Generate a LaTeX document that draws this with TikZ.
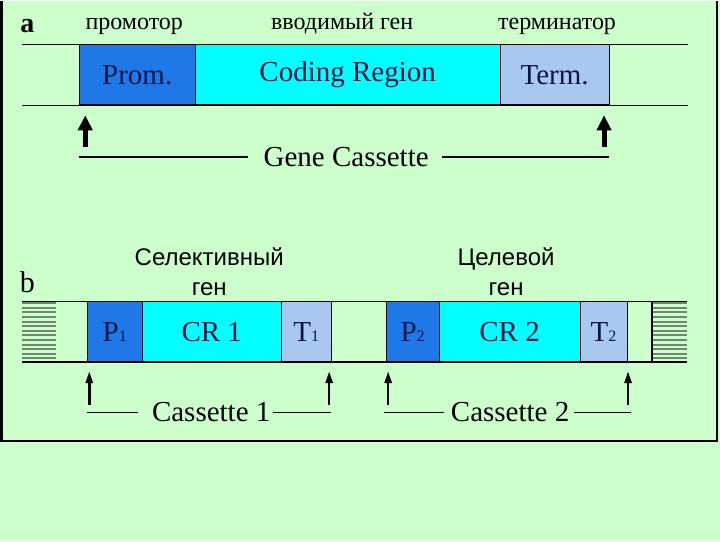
\documentclass[tikz,border=0pt]{standalone}
\usepackage{fontspec}
\setmainfont{Liberation Serif}
\setsansfont{Liberation Sans}
\usetikzlibrary{positioning,arrows.meta,calc}

\definecolor{bakgrunn}{RGB}{204,255,204}
\definecolor{promblaa}{RGB}{30,120,232}
\definecolor{kodecyan}{RGB}{0,255,255}
\definecolor{termblaa}{RGB}{168,200,240}
\definecolor{tekst}{RGB}{10,20,70}
\definecolor{stripefarge}{RGB}{110,135,110}
\newcommand{\indeks}[1]{{\fontsize{8}{8}\selectfont #1}}

\begin{document}
\begin{tikzpicture}[
  x=0.5pt, y=-0.5pt,
  node distance=0pt,
  boks/.style={draw=black, line width=0.5pt, inner sep=0pt, outer sep=0pt, minimum height=30.5pt, text=tekst, font=\fontsize{14.5}{16}\selectfont},
  promboks/.style={boks, fill=promblaa},
  kodeboks/.style={boks, fill=kodecyan},
  termboks/.style={boks, fill=termblaa},
  etikett/.style={font=\fontsize{12}{14}\selectfont, anchor=base},
  sans/.style={font=\sffamily\fontsize{12}{15}\selectfont, align=center},
  kass/.style={font=\fontsize{14.5}{16}\selectfont, inner sep=0pt},
  tykkpil/.style={-{Triangle[length=7.5pt, width=7pt]}, line width=2.5pt},
  tynnpil/.style={-{Triangle[length=6pt, width=3.5pt]}, line width=1.3pt},
  linje/.style={line width=0.6pt},
  stripe/.style={draw=stripefarge, line width=1pt}
]
\fill[bakgrunn] (0,0) rectangle (720,540);
\draw[line width=1.3pt] (1,0) -- (1,440) -- (717,440) -- (717,0);

% a: gene cassette
\node[font=\bfseries\fontsize{14}{14}\selectfont, anchor=base] (a) at (27,31) {a};
\node[etikett] (lprom) at (134,28) {промотор};
\node[etikett] (lkode) at (342,28) {вводимый ген};
\node[etikett] (lterm) at (557,28) {терминатор};

\draw[linje] (22,43) -- (688,43);
\draw[linje] (22,104) -- (688,104);
\node[promboks, minimum width=58pt, anchor=north west] (prom) at (79,43) {Prom.};
\node[kodeboks, minimum width=152.5pt, right=of prom] (kode) {Coding Region};
\node[termboks, minimum width=54.5pt, right=of kode] (term) {Term.};
\draw[line width=1pt] (prom.south west) -- (term.south east);

\draw[tykkpil] ([xshift=3pt, yshift=-21pt]prom.south west) -- ([xshift=3pt, yshift=-5pt]prom.south west);
\draw[tykkpil] ([xshift=-2.5pt, yshift=-21pt]term.south east) -- ([xshift=-2.5pt, yshift=-5pt]term.south east);

\node[kass] (gk) at (346,156) {Gene Cassette};
\draw[line width=1pt] (prom.west |- gk) -- ([xshift=-7.5pt]gk.west);
\draw[line width=1pt] ([xshift=6.5pt]gk.east) -- (term.east |- gk);

% b: two cassettes
\node[font=\fontsize{15}{15}\selectfont, anchor=base] (b) at (27,291) {b};
\node[sans] (selgen) at (209,271) {Селективный\\ген};
\node[sans] (maalgen) at (506,271) {Целевой\\ген};

\foreach \i in {0,...,12} {
  \draw[stripe] (22,{302+\i*4.6}) -- (56,{302+\i*4.6});
  \draw[stripe] (653,{302+\i*4.6}) -- (687,{302+\i*4.6});
}
\draw[linje] (22,300) -- (687,300);
\draw[linje] (652,300) -- (652,361);
\node[promboks, minimum width=27.5pt, anchor=north west] (p1) at (87,300) {P\indeks{1}};
\node[kodeboks, minimum width=69.5pt, right=of p1] (cr1) {CR 1};
\node[termboks, minimum width=25pt, right=of cr1] (t1) {T\indeks{1}};
\node[promboks, minimum width=26.5pt, anchor=north west] (p2) at (386,300) {P\indeks{2}};
\node[kodeboks, minimum width=70.5pt, right=of p2] (cr2) {CR 2};
\node[termboks, minimum width=23.5pt, right=of cr2] (t2) {T\indeks{2}};
\draw[line width=1.3pt] (22,361) -- (687,361);

\draw[tynnpil] ([xshift=1pt, yshift=-21.5pt]p1.south west) -- ([xshift=1pt, yshift=-4.5pt]p1.south west);
\draw[tynnpil] ([xshift=-1pt, yshift=-21.5pt]t1.south east) -- ([xshift=-1pt, yshift=-4.5pt]t1.south east);
\draw[tynnpil] ([xshift=1pt, yshift=-21.5pt]p2.south west) -- ([xshift=1pt, yshift=-4.5pt]p2.south west);
\draw[tynnpil] ([xshift=0.5pt, yshift=-21.5pt]t2.south east) -- ([xshift=0.5pt, yshift=-4.5pt]t2.south east);

\node[kass] (k1) at (211,411) {Cassette 1};
\draw[linje] (p1.west |- k1) -- ([xshift=-7pt]k1.west);
\draw[linje] ([xshift=1pt]k1.east) -- (t1.east |- k1);
\node[kass] (k2) at (510,411) {Cassette 2};
\draw[linje] ([xshift=-1pt]p2.west |- k2) -- ([xshift=-3.5pt]k2.west);
\draw[linje] ([xshift=2pt]k2.east) -- ([xshift=2pt]t2.east |- k2);
\end{tikzpicture}
\end{document}
